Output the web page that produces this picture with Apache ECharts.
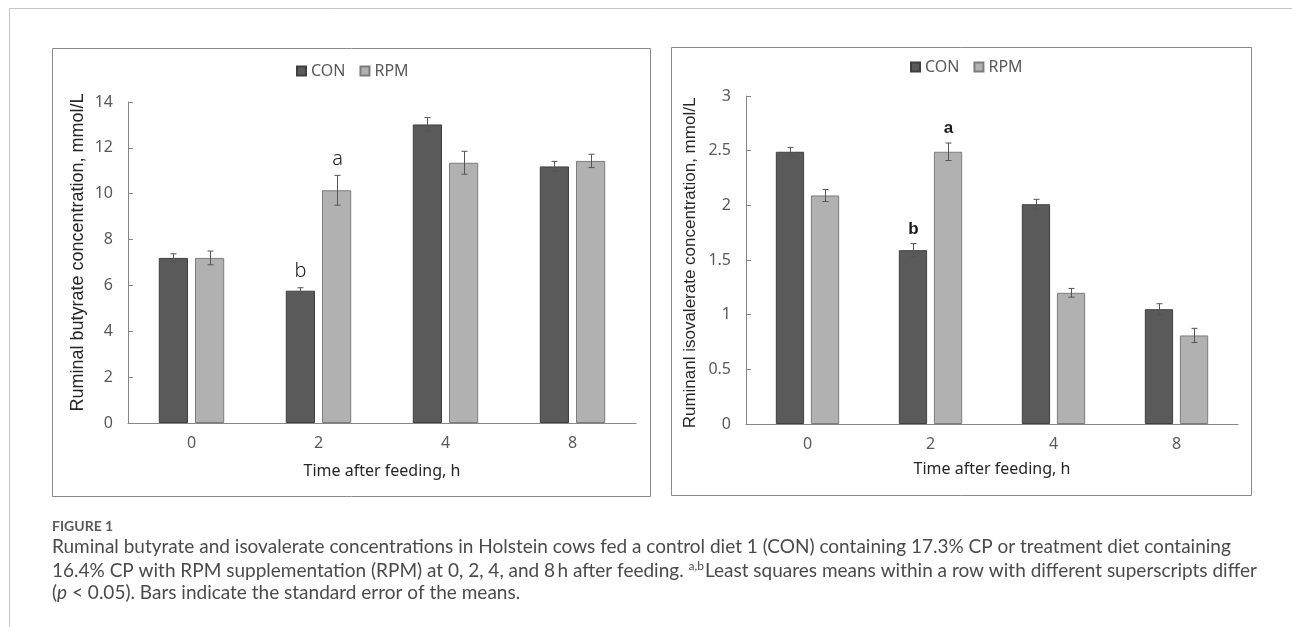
<!DOCTYPE html>
<html>
<head>
<meta charset="utf-8">
<script src="https://cdn.jsdelivr.net/npm/echarts@6/dist/echarts.min.js"></script>
<style>
html, body { margin: 0; padding: 0; background: #fff; }
#main { width: 1292px; height: 627px; }
</style>
</head>
<body>
<div id="main"></div>
<script>
// hours after feeding
var hours = ['0', '2', '4', '8'];

// butyrate, mmol/L
var butCon = [7.2, 5.77, 13.02, 11.19];
var butConSe = [0.18, 0.13, 0.3, 0.22];
var butRpm = [7.2, 10.15, 11.35, 11.43];
var butRpmSe = [0.3, 0.65, 0.5, 0.29];
var butConSig = ['', 'b', '', ''];
var butRpmSig = ['', 'a', '', ''];
var butTicks = [0, 2, 4, 6, 8, 10, 12, 14];

// isovalerate, mmol/L
var isoCon = [2.49, 1.59, 2.01, 1.05];
var isoConSe = [0.04, 0.06, 0.045, 0.05];
var isoRpm = [2.09, 2.49, 1.2, 0.81];
var isoRpmSe = [0.055, 0.08, 0.04, 0.065];
var isoConSig = ['', 'b', '', ''];
var isoRpmSig = ['', 'a', '', ''];
var isoTicks = [0, 0.5, 1, 1.5, 2, 2.5, 3];

var BAR_W = 0.23;   // share of category band
var BAR_GAP = 0.24; // share of bar width
var CHART_FONT = '"Noto Sans", sans-serif';
var TITLE_FONT = '"Liberation Sans", Arial, sans-serif';
var CON_STYLE = { color: '#5a5a5a', borderColor: '#3f3f3f', borderWidth: 1 };
var RPM_STYLE = { color: '#b1b1b1', borderColor: '#7c7c7c', borderWidth: 1 };

function yAxis(idx, ticks, name, gap, size, pad) {
    return {
        type: 'value', gridIndex: idx,
        min: ticks[0], max: ticks[ticks.length - 1], interval: ticks[1] - ticks[0],
        name: name, nameLocation: 'middle', nameGap: gap,
        nameTextStyle: { fontFamily: TITLE_FONT, fontSize: size, color: '#262626', padding: pad },
        axisLine: { show: true, lineStyle: { color: '#868686' } },
        axisTick: { show: true, inside: true, length: 5, lineStyle: { color: '#868686' } },
        axisLabel: { margin: 15, fontFamily: CHART_FONT, fontSize: 16, color: '#595959' },
        splitLine: { show: false }
    };
}

function xAxis(idx, gap) {
    return {
        type: 'category', gridIndex: idx, data: hours,
        name: 'Time after feeding, h', nameLocation: 'middle', nameGap: gap,
        nameTextStyle: { fontFamily: CHART_FONT, fontSize: 16, color: '#262626' },
        axisLine: { show: true, lineStyle: { color: '#868686' } },
        axisTick: { show: false },
        axisLabel: { margin: 12, fontFamily: CHART_FONT, fontSize: 16, color: '#595959' }
    };
}

function barSeries(idx, name, values, style) {
    return {
        name: name, type: 'bar', xAxisIndex: idx, yAxisIndex: idx,
        data: values, barWidth: (BAR_W * 100) + '%', barGap: (BAR_GAP * 100) + '%',
        itemStyle: style, emphasis: { disabled: true }
    };
}

//误差线 + 显著性字母
function errSeries(idx, means, ses, sig, side, sigFont) {
    return {
        type: 'custom', xAxisIndex: idx, yAxisIndex: idx, z: 5,
        encode: { x: 0, y: [1, 2] },
        data: means.map(function (m, i) { return [i, m - ses[i], m + ses[i]]; }),
        renderItem: function (params, api) {
            var band = api.size([1, 0])[0];
            var off = side * band * BAR_W * (1 + BAR_GAP) / 2;
            var lo = api.coord([api.value(0), api.value(1)]);
            var hi = api.coord([api.value(0), api.value(2)]);
            var x = Math.round(lo[0] + off) + 0.5;
            var ls = { stroke: '#555', lineWidth: 1 };
            var kids = [
                { type: 'line', shape: { x1: x, y1: lo[1], x2: x, y2: hi[1] }, style: ls },
                { type: 'line', shape: { x1: x - 3, y1: hi[1], x2: x + 3, y2: hi[1] }, style: ls },
                { type: 'line', shape: { x1: x - 3, y1: lo[1], x2: x + 3, y2: lo[1] }, style: ls }
            ];
            var s = sig[params.dataIndex];
            if (s) {
                kids.push({
                    type: 'text',
                    style: { text: s, x: x, y: hi[1] - 6, align: 'center', verticalAlign: 'bottom', font: sigFont, fill: '#1a1a1a' }
                });
            }
            return { type: 'group', children: kids };
        }
    };
}

function legend(left, top) {
    return {
        left: left, top: top, data: ['CON', 'RPM'], icon: 'rect',
        itemWidth: 9, itemHeight: 9, itemGap: 14, selectedMode: false,
        textStyle: { fontFamily: CHART_FONT, fontSize: 16, color: '#595959' }
    };
}

var capFont = 'Lato, "Open Sans", sans-serif';
var chart = echarts.init(document.getElementById('main'));
chart.setOption({
    animation: false,
    backgroundColor: '#fff',
    legend: [legend(291, 58), legend(905, 54)],
    grid: [
        { left: 128, top: 102, width: 508, height: 321, outerBoundsMode: 'none' },
        { left: 746, top: 96, width: 492, height: 328, outerBoundsMode: 'none' }
    ],
    xAxis: [xAxis(0, 40), xAxis(1, 37)],
    yAxis: [
        yAxis(0, butTicks, 'Ruminal butyrate concentration, mmol/L', 41, 18, [0, 0, 0, 20]),
        yAxis(1, isoTicks, 'Ruminanl isovalerate concentration, mmol/L', 47, 17, [0, 6, 0, 0])
    ],
    series: [
        barSeries(0, 'CON', butCon, CON_STYLE),
        barSeries(0, 'RPM', butRpm, RPM_STYLE),
        barSeries(1, 'CON', isoCon, CON_STYLE),
        barSeries(1, 'RPM', isoRpm, RPM_STYLE),
        errSeries(0, butCon, butConSe, butConSig, -1, '300 20px ' + CHART_FONT),
        errSeries(0, butRpm, butRpmSe, butRpmSig, 1, '300 20px ' + CHART_FONT),
        errSeries(1, isoCon, isoConSe, isoConSig, -1, 'bold 17px ' + TITLE_FONT),
        errSeries(1, isoRpm, isoRpmSe, isoRpmSig, 1, 'bold 17px ' + TITLE_FONT)
    ],
    graphic: [
        // 外框
        { type: 'polyline', silent: true, shape: { points: [[9.5, 640], [9.5, 8.5], [1300, 8.5]] }, style: { stroke: '#c4c4c4', lineWidth: 1, fill: null } },
        { type: 'rect', silent: true, shape: { x: 52.5, y: 48.5, width: 598, height: 448 }, style: { stroke: '#8a8a8a', lineWidth: 1, fill: null } },
        { type: 'rect', silent: true, shape: { x: 671.5, y: 47.5, width: 580, height: 448 }, style: { stroke: '#8a8a8a', lineWidth: 1, fill: null } },
        // 图注
        { type: 'text', left: 52, top: 519, style: { text: 'FIGURE 1', font: 'bold 14px ' + capFont, fill: '#5a5a5a' } },
        { type: 'text', left: 52, top: 537, style: { text: 'Ruminal butyrate and isovalerate concentrations in Holstein cows fed a control diet 1 (CON) containing 17.3% CP or treatment diet containing', font: '19px ' + capFont, fill: '#4a4a4a' } },
        { type: 'text', left: 52, top: 560, style: {
            text: '16.4% CP with RPM supplementation (RPM) at 0, 2, 4, and 8\u2009h after feeding. {sup|a,b}Least squares means within a row with different superscripts differ',
            font: '19px ' + capFont, fill: '#4a4a4a',
            rich: { sup: { font: '12px ' + capFont, fill: '#4a4a4a', verticalAlign: 'top', padding: [0, 1, 9, 0] } }
        } },
        { type: 'text', left: 52, top: 583, style: {
            text: '({i|p} < 0.05). Bars indicate the standard error of the means.',
            font: '19px ' + capFont, fill: '#4a4a4a',
            rich: { i: { font: 'italic 19px ' + capFont, fill: '#4a4a4a' } }
        } }
    ]
});
</script>
</body>
</html>
